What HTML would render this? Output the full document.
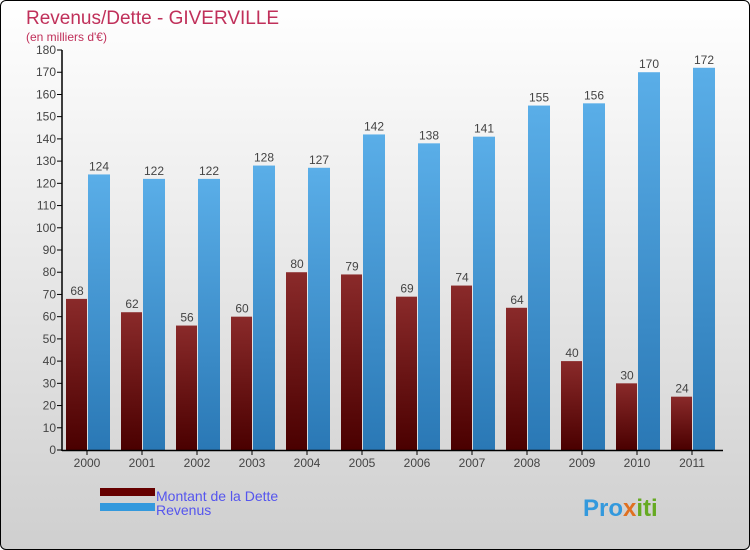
<!DOCTYPE html>
<html><head><meta charset="utf-8"><style>
body{margin:0}
#c{width:748px;height:548px;border:1px solid #000;border-radius:6px;background:linear-gradient(#ffffff,#cfcfcf);position:relative;overflow:hidden;font-family:"Liberation Sans",sans-serif}
</style></head><body>
<div id="c">
<svg id="s" width="748" height="548" xmlns="http://www.w3.org/2000/svg">
<defs>
<linearGradient id="gd" x1="0" y1="0" x2="0" y2="1"><stop offset="0" stop-color="#8a2a2a"/><stop offset="1" stop-color="#4a0000"/></linearGradient>
<linearGradient id="gr" x1="0" y1="0" x2="0" y2="1"><stop offset="0" stop-color="#5aaee8"/><stop offset="1" stop-color="#2a78b5"/></linearGradient>
</defs>
<text x="25" y="23" font-size="19" fill="#c0305a">Revenus/Dette - GIVERVILLE</text>
<text x="25" y="40" font-size="12" fill="#c0305a">(en milliers d'€)</text>
<g id="g"></g>
<rect x="99" y="487" width="55" height="8" fill="#660000"/>
<text x="155" y="500" font-size="14" fill="#5555ee">Montant de la Dette</text>
<rect x="99" y="502" width="55" height="8" fill="#3399dd"/>
<text x="155" y="514" font-size="14" fill="#5555ee">Revenus</text>
<text x="582" y="515" font-size="24" font-weight="bold" fill="#3399dd">Pro<tspan fill="#e07020">x</tspan><tspan fill="#66aa22">iti</tspan></text>
</svg></div>
<script>
const years=["2000","2001","2002","2003","2004","2005","2006","2007","2008","2009","2010","2011"];
const dette=[68,62,56,60,80,79,69,74,64,40,30,24];
const revenus=[124,122,122,128,127,142,138,141,155,156,170,172];
const yTicks=[0,10,20,30,40,50,60,70,80,90,100,110,120,130,140,150,160,170,180];
const NS="http://www.w3.org/2000/svg";
const g=document.getElementById('g');
const y=v=>449-v*400/180;
const xc=i=>86+i*55;
function mk(t,a,txt){const e=document.createElementNS(NS,t);for(const k in a)e.setAttribute(k,a[k]);if(txt!==undefined)e.textContent=txt;g.appendChild(e);return e;}
yTicks.forEach(v=>{
 mk('line',{x1:56,x2:61,y1:y(v),y2:y(v),stroke:'#000'});
 const t=mk('text',{x:55,y:y(v)+4,'font-size':12,fill:'#444','text-anchor':'end'},v);
 
 
});
years.forEach((yr,i)=>{
 const c=xc(i);
 const b1=mk('rect',{x:c-21,y:y(dette[i]),width:21,height:y(0)-y(dette[i]),fill:'url(#gd)'});
 
 
 const b2=mk('rect',{x:c+1,y:y(revenus[i]),width:22,height:y(0)-y(revenus[i]),fill:'url(#gr)'});
 
 
 const l1=mk('text',{x:c-10,y:y(dette[i])-4,'font-size':12,fill:'#444','text-anchor':'middle'},dette[i]);
 
 
 const l2=mk('text',{x:c+12,y:y(revenus[i])-4,'font-size':12,fill:'#444','text-anchor':'middle'},revenus[i]);
 
 
 mk('line',{x1:c,x2:c,y1:449,y2:454,stroke:'#000'});
 const xl=mk('text',{x:c,y:466,'font-size':12,fill:'#444','text-anchor':'middle'},yr);
 
 
});
const ax=mk('line',{x1:61,x2:61,y1:49,y2:450,stroke:'#000','stroke-width':1.5});


const bx=mk('line',{x1:61,x2:722,y1:449.5,y2:449.5,stroke:'#000','stroke-width':1.5});


</script>
</body></html>
